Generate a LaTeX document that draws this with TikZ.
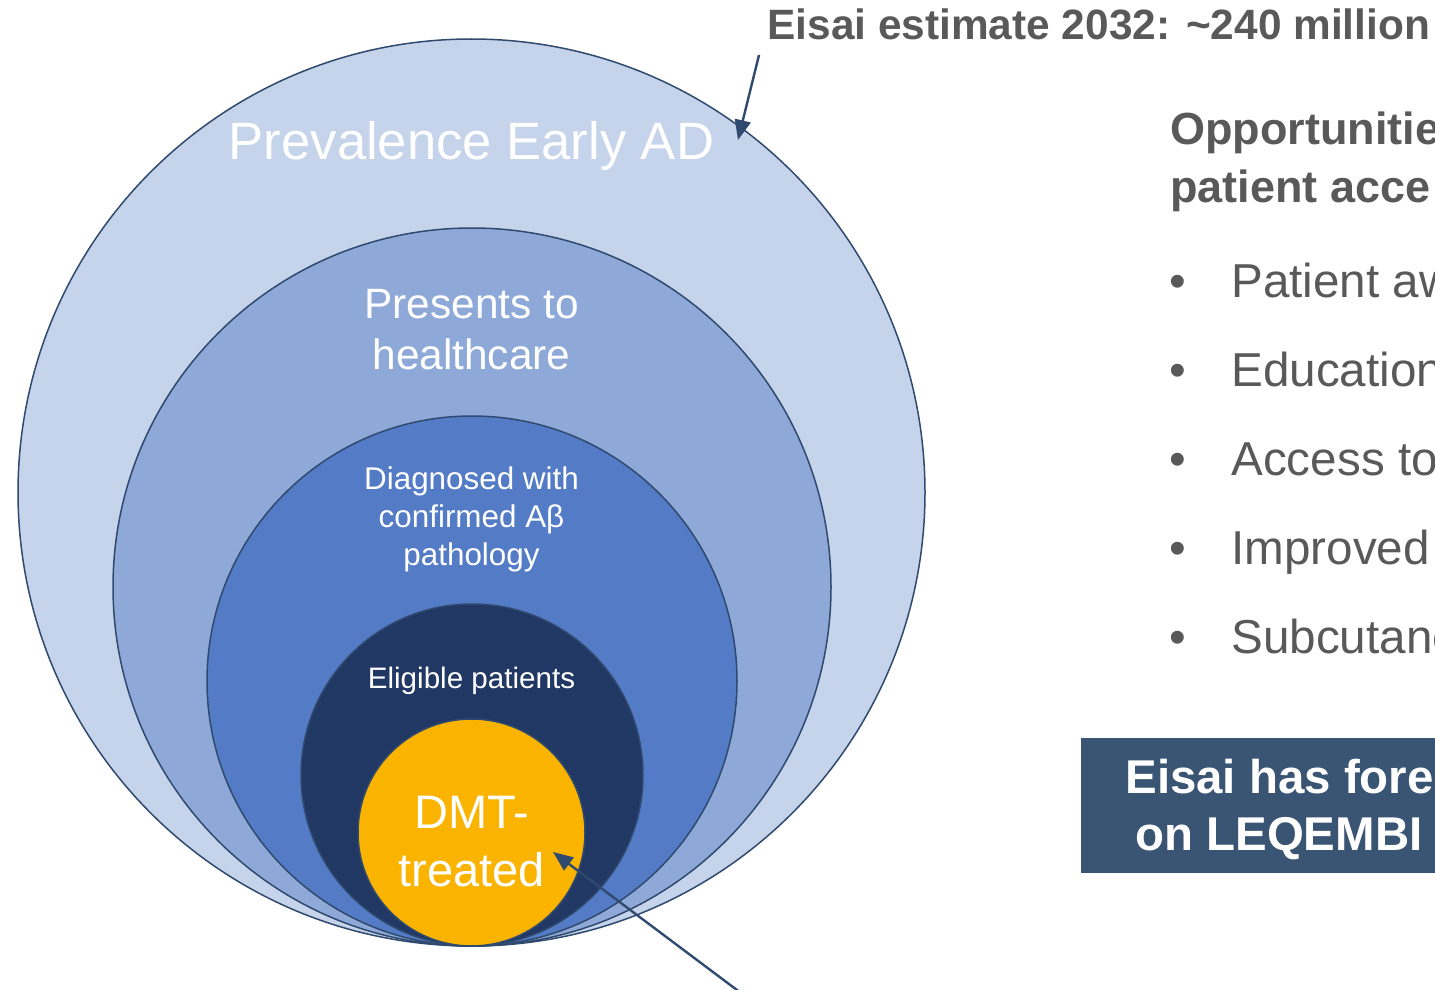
\documentclass[tikz,border=0pt]{standalone}
\usepackage{fontspec}
\setmainfont{Liberation Sans}
\usetikzlibrary{arrows.meta}

\definecolor{ringA}{HTML}{C5D3EB}
\definecolor{ringB}{HTML}{8EA9D8}
\definecolor{ringC}{HTML}{547CC6}
\definecolor{ringD}{HTML}{213864}
\definecolor{core}{HTML}{FAB400}
\definecolor{edge}{HTML}{2F4A6E}
\definecolor{txtgray}{HTML}{595959}
\definecolor{boxblue}{HTML}{3A5474}

\begin{document}
\begin{tikzpicture}[x=0.5pt,y=-0.5pt,
  ring/.style={circle, draw=edge, line width=0.75pt, inner sep=0pt},
  % multi-line labels are placed by the baseline of their last line
  lbl/.style={text=white, anchor=base, align=center, inner sep=0pt},
  graytxt/.style={text=txtgray, anchor=base west, align=left, inner sep=0pt},
  bullet/.style={graytxt, font=\fontsize{23.8pt}{28pt}\selectfont},
  callout/.style={draw=edge, line width=1.2pt, -{Triangle[length=10pt,width=8pt]}}
]
\useasboundingbox (0,0) rectangle (1435,990);
\begin{scope}
\clip (0,0) rectangle (1435,990);

% nested population circles, all touching at the bottom
\node[ring, fill=ringA, minimum size=453.5pt] (prev) at (471.5,492.5) {};
\node[ring, fill=ringB, minimum size=359pt]   (pres) at (472,587) {};
\node[ring, fill=ringC, minimum size=265pt]   (diag) at (472,681) {};
\node[ring, fill=ringD, minimum size=171pt]   (elig) at (472,775) {};
\node[ring, fill=core,  minimum size=113.5pt] (dmt)  at (471.5,832.5) {};

% circle labels
\node[lbl, font=\fontsize{26.3pt}{30pt}\selectfont] (prevTxt) at (471.5,160) {Prevalence Early AD};
\node[lbl, font=\fontsize{21.2pt}{25.5pt}\selectfont] (presTxt) at (471.5,369) {Presents to\\healthcare};
\node[lbl, font=\fontsize{15.7pt}{18.8pt}\selectfont] (diagTxt) at (471.5,565) {Diagnosed with\\confirmed Aβ\\pathology};
\node[lbl, font=\fontsize{14.8pt}{18pt}\selectfont] (eligTxt) at (471.5,688) {Eligible patients};
\node[lbl, font=\fontsize{23.5pt}{29pt}\selectfont] (dmtTxt) at (471.5,886) {DMT-\\treated};

% headline estimate
\node[graytxt, font=\bfseries\fontsize{21.2pt}{25pt}\selectfont] (estTxt) at (767,40) {Eisai estimate 2032: \textasciitilde240 million};

% opportunities list
\node[graytxt, font=\bfseries\fontsize{22.5pt}{28.5pt}\selectfont] (oppTxt) at (1170,202) {Opportunitie\\patient acce};
\node[bullet] (b1) at (1169,297) {\makebox[31pt][l]{•}Patient aw};
\node[bullet] (b2) at (1169,386) {\makebox[31pt][l]{•}Education};
\node[bullet] (b3) at (1169,475) {\makebox[31pt][l]{•}Access to};
\node[bullet] (b4) at (1169,564) {\makebox[31pt][l]{•}Improved};
\node[bullet] (b5) at (1169,653) {\makebox[31pt][l]{•}Subcutane};

% forecast box
\node[fill=boxblue, anchor=north west, minimum width=190pt, minimum height=67.5pt, inner sep=0pt] (box) at (1081,738) {};
\node[graytxt, text=white, font=\bfseries\fontsize{23.7pt}{28.5pt}\selectfont] (boxTxt) at (1125,850) {Eisai has fore\\\hspace*{5pt}on LEQEMBI};

% callout arrows
\coordinate (estFrom) at (759,55);
\coordinate (estTip) at (738,140);
\draw[callout] (estFrom) -- (estTip);
\coordinate (dmtFrom) at (745,996);
\coordinate (dmtTip) at (553,852);
\draw[callout] (dmtFrom) -- (dmtTip);
\end{scope}
\end{tikzpicture}
\end{document}
